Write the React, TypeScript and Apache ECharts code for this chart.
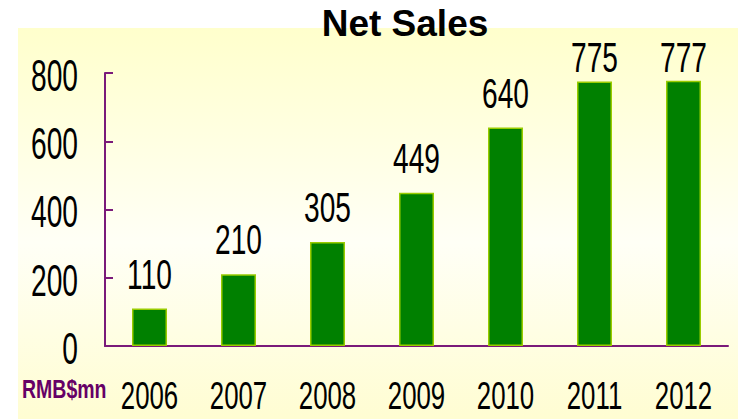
import React, { useEffect, useRef } from "react";
import * as echarts from "echarts";

const years = ["2006", "2007", "2008", "2009", "2010", "2011", "2012"];
const netSales = [110, 210, 305, 449, 640, 775, 777];
const yTicks = [0, 200, 400, 600, 800];
const unitLabel = "RMB$mn";
const titleText = "Net Sales";

const SANS = "'Liberation Sans', Arial, sans-serif";
const AXIS = "#7A1A7A";

export default function App() {
  const ref = useRef<HTMLDivElement>(null);
  useEffect(() => {
    document.body.style.margin = "0";
    const chart = echarts.init(ref.current!, undefined, { renderer: "svg" });
    chart.setOption({
      animation: false,
      backgroundColor: "#ffffff",
      title: {
        text: titleText,
        left: 400,
        textAlign: "center",
        top: 0,
        textStyle: {
          fontFamily: SANS,
          fontWeight: "bold",
          fontSize: 37,
          color: "#000",
        },
      },
      grid: { left: 105, right: 10, top: 73, bottom: 73 },
      xAxis: {
        type: "category",
        data: years,
        axisLine: { lineStyle: { color: AXIS, width: 2 } },
        axisTick: { inside: true, length: 12, lineStyle: { color: AXIS, width: 2 } },
        axisLabel: { show: false },
      },
      yAxis: {
        type: "value",
        min: 0,
        max: yTicks[yTicks.length - 1],
        interval: 200,
        splitLine: { show: false },
        axisLine: { show: true, lineStyle: { color: AXIS, width: 2 } },
        axisTick: { show: true, inside: true, length: 8, lineStyle: { color: AXIS, width: 2 } },
        axisLabel: { show: false },
      },
      series: [
        {
          type: "bar",
          data: netSales,
          barWidth: 35,
          itemStyle: { color: "#008000", borderColor: "#99CC00", borderWidth: 1.5 },
          label: { show: false },
        },
      ],
    });

    const px = (cat: string, v: number) =>
      chart.convertToPixel({ gridIndex: 0 }, [cat, v]) as number[];
    const gridTop = px(years[0], yTicks[yTicks.length - 1])[1];
    const graphics: any[] = [
      {
        type: "rect",
        z: -10,
        silent: true,
        shape: { x: 18, y: 28, width: 720, height: 391 },
        style: {
          fill: new echarts.graphic.LinearGradient(0, 0, 0, 1, [
            { offset: 0, color: "#FFFFCC" },
            { offset: 0.55, color: "#FFFFF6" },
            { offset: 1, color: "#FFFDD2" },
          ]),
        },
      },
      {
        type: "text",
        x: 22,
        y: 390,
        scaleX: 0.78,
        style: {
          text: unitLabel,
          fill: "#660066",
          font: `bold 25px ${SANS}`,
          verticalAlign: "middle",
          align: "left",
        },
      },
    ];
    yTicks.forEach((t) => {
      const [, y] = px(years[0], t);
      graphics.push({
        type: "text",
        x: 78,
        y: y + 3,
        scaleX: 0.64,
        style: {
          text: String(t),
          fill: "#000",
          font: `44px ${SANS}`,
          align: "right",
          verticalAlign: "middle",
        },
      });
    });
    years.forEach((yr, i) => {
      const [x, y0] = px(yr, 0);
      graphics.push({
        type: "text",
        x,
        y: y0 + 50.5,
        scaleX: 0.68,
        style: {
          text: yr,
          fill: "#000",
          font: `38px ${SANS}`,
          align: "center",
          verticalAlign: "middle",
        },
      });
      const [, yb] = px(yr, netSales[i]);
      const glyphBottom = Math.max(yb - 19, gridTop);
      graphics.push({
        type: "text",
        x,
        y: glyphBottom - 15,
        scaleX: 0.67,
        style: {
          text: String(netSales[i]),
          fill: "#000",
          font: `42px ${SANS}`,
          align: "center",
          verticalAlign: "middle",
        },
      });
    });
    chart.setOption({ graphic: graphics });
    return () => chart.dispose();
  }, []);
  return <div ref={ref} style={{ width: 738, height: 419 }} />;
}
